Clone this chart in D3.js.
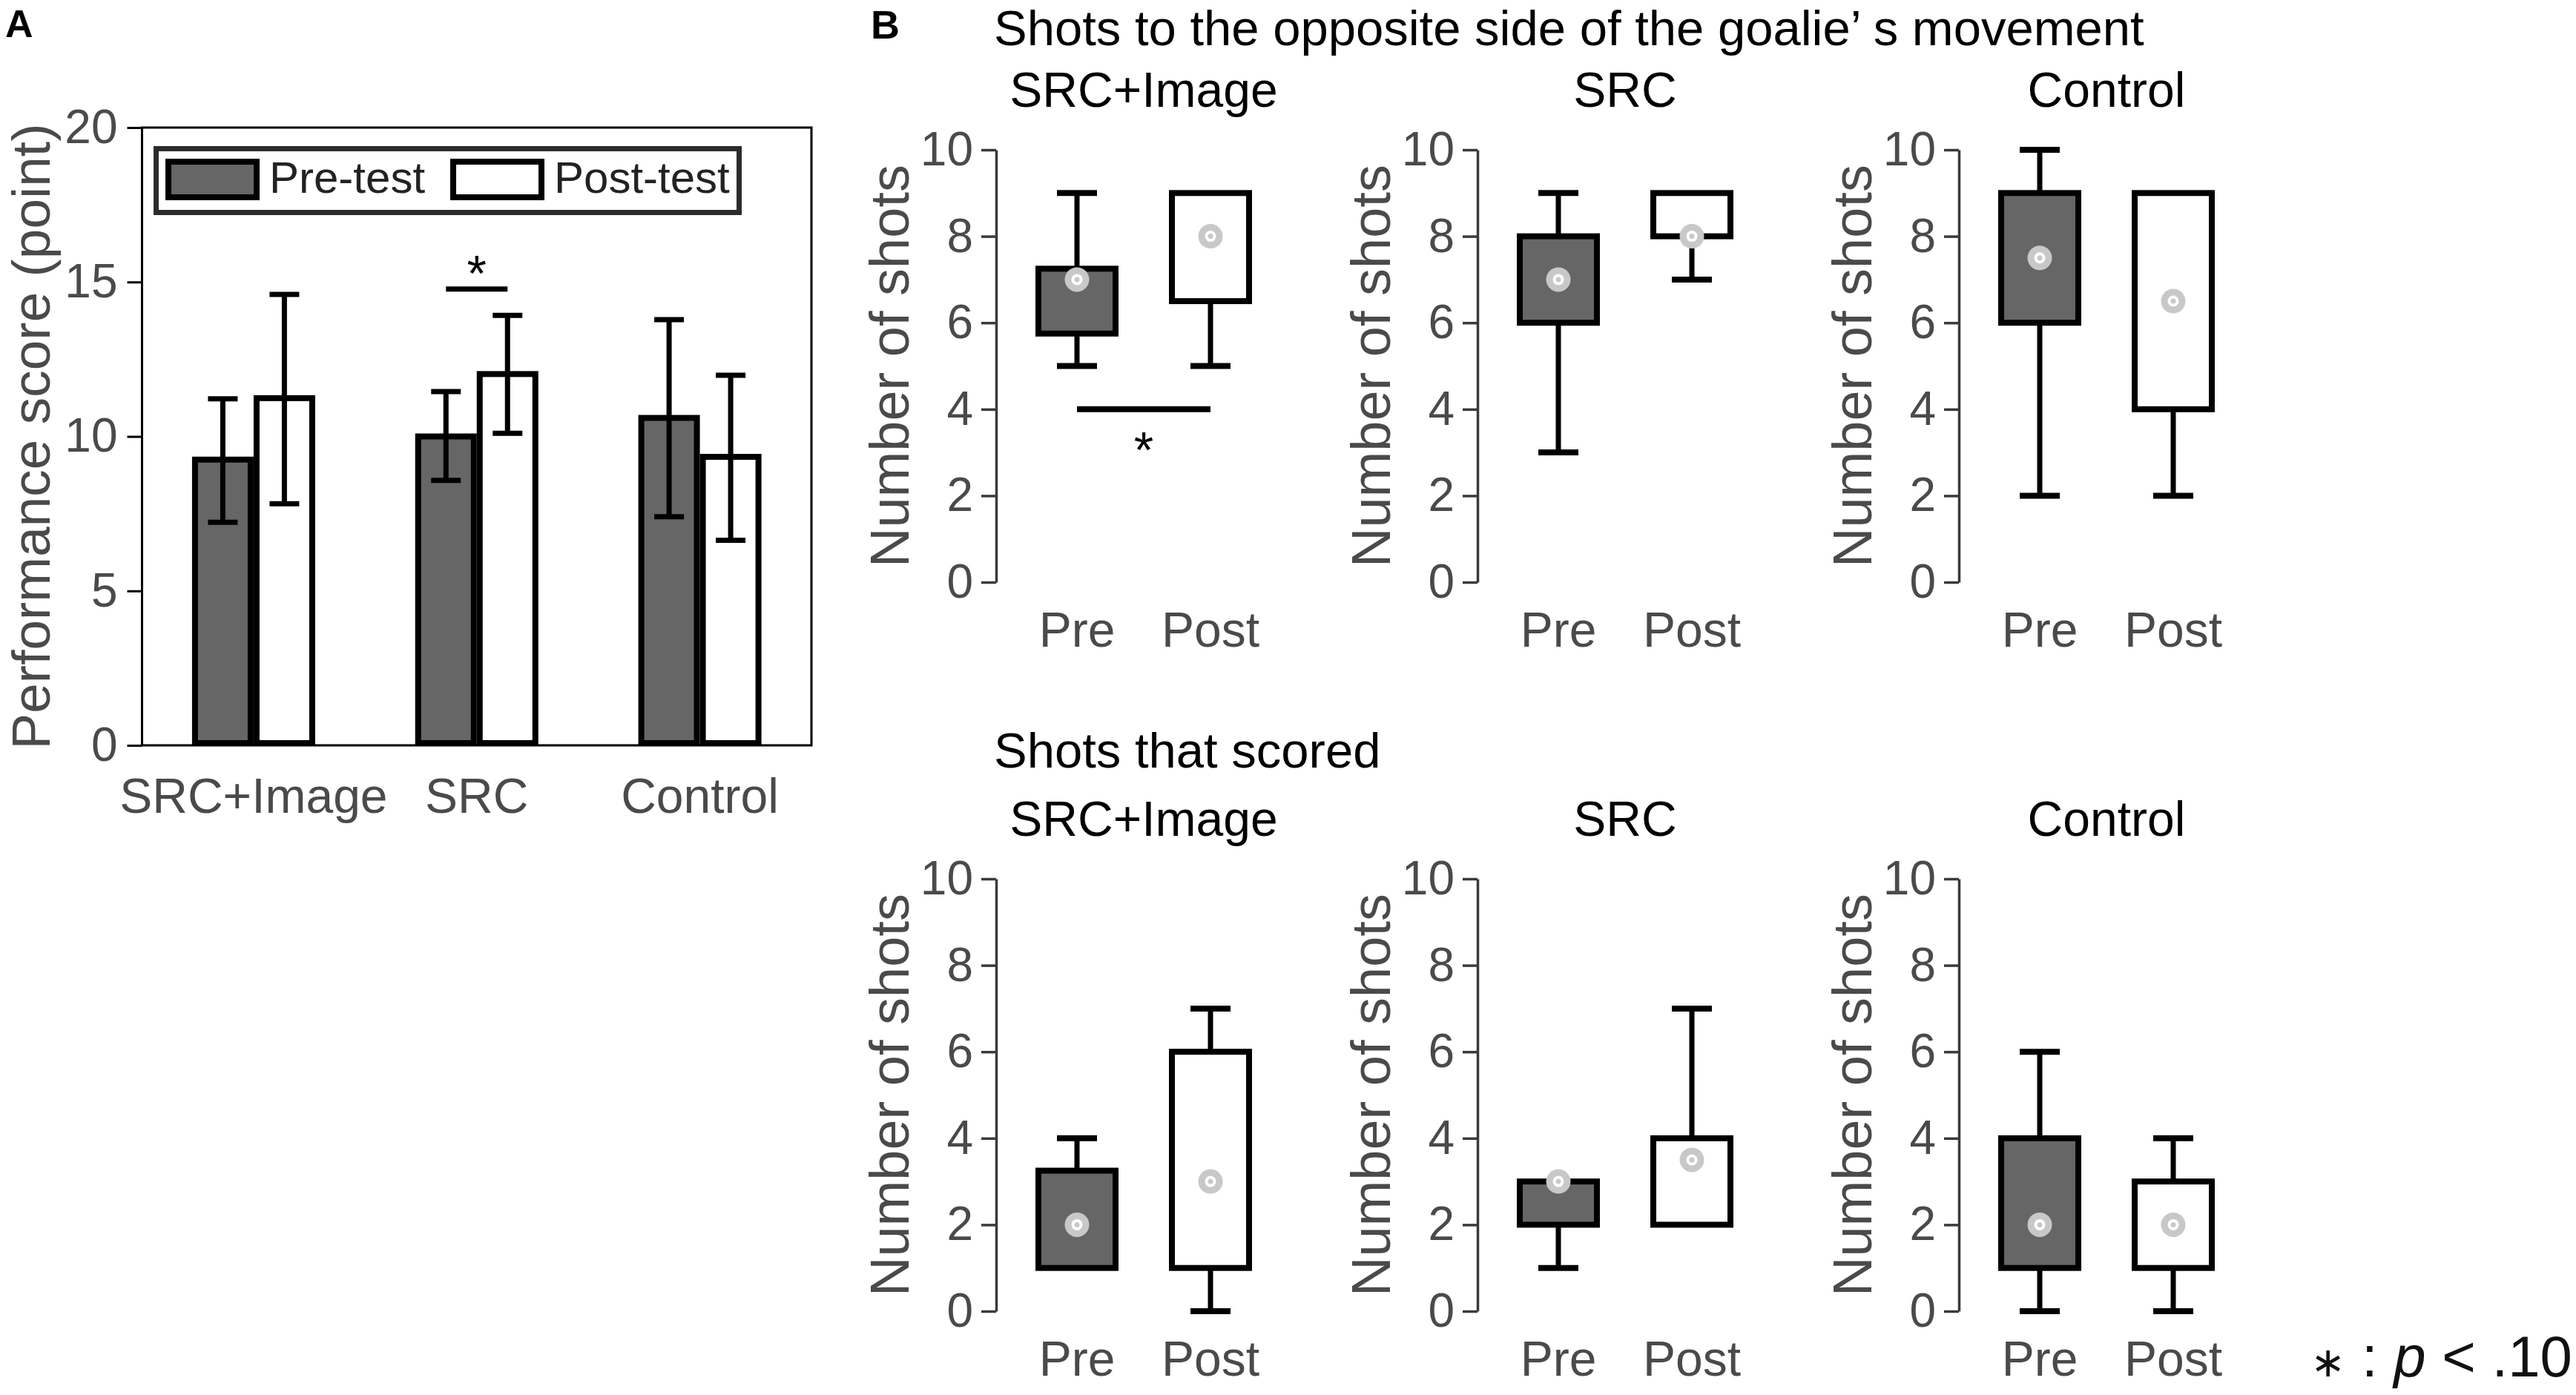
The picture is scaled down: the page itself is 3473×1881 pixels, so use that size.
<!DOCTYPE html>
<html><head><meta charset="utf-8">
<script src="https://cdn.jsdelivr.net/npm/d3@7"></script>
<style>
body{margin:0;background:#fff}
svg{display:block;background:#fff}
text{font-family:"Liberation Sans",Arial,Helvetica,sans-serif}
</style>
</head><body>
<svg id="c" width="3473" height="1881"></svg>
<script>
// ---------- data ----------
const groups = ["SRC+Image", "SRC", "Control"];
const phases = ["Pre", "Post"];
const legendLabels = ["Pre-test", "Post-test"];

// Panel A: performance score (mean and error-bar ends), [pre, post] per group
const scoreMean = [[9.25, 11.24], [10.0, 12.02], [10.6, 9.34]];
const scoreLow  = [[7.22, 7.82], [8.58, 10.1], [7.4, 6.64]];
const scoreHigh = [[11.22, 14.6], [11.45, 13.92], [13.78, 11.98]];
const scoreTicks = [0, 5, 10, 15, 20];
const scoreSig = {group: "SRC", value: 14.77};

// Panel B: box plots, [pre, post] per group
const rowTitles = ["Shots to the opposite side of the goalie\u2019 s movement", "Shots that scored"];
const shotTicks = [0, 2, 4, 6, 8, 10];
// row 1: shots to the opposite side
const oppMin    = [[5, 5],    [3, 7], [2, 2]];
const oppQ1     = [[5.75, 6.5], [6, 8], [6, 4]];
const oppCenter = [[7, 8],    [7, 8], [7.5, 6.5]];
const oppQ3     = [[7.25, 9], [8, 9], [9, 9]];
const oppMax    = [[9, 9],    [9, 9], [10, 9]];
const oppSig = {group: "SRC+Image", value: 4};
// row 2: shots that scored
const scMin    = [[1, 0],    [1, 2],   [0, 0]];
const scQ1     = [[1, 1],    [2, 2],   [1, 1]];
const scCenter = [[2, 3],    [3, 3.5], [2, 2]];
const scQ3     = [[3.25, 6], [3, 4],   [4, 3]];
const scMax    = [[4, 7],    [3, 7],   [6, 4]];

// ---------- style ----------
const GRAY_TXT = "#4a4a4a";
const FILL = {Pre: "#666666", Post: "#ffffff"};
const svg = d3.select("#c");

// ---------- Panel A ----------
svg.append("text").attr("x", 7).attr("y", 50).attr("font-size", 52)
  .attr("font-weight", "bold").attr("fill", "#000").text("A");

const A = {left: 191.5, right: 1094, top: 172, bottom: 1005};
const xA = d3.scaleBand().domain(groups).range([A.left, A.right]);
const xA1 = d3.scaleBand().domain(phases).range([-83, 83]);
const yA = d3.scaleLinear().domain([0, 20]).range([A.bottom, A.top]);
const cA = (g, p) => xA(g) + xA.bandwidth() / 2 + xA1(p) + xA1.bandwidth() / 2;

const axA = svg.append("g").attr("transform", `translate(${A.left},0)`)
  .call(d3.axisLeft(yA).tickValues(scoreTicks).tickSize(20).tickPadding(13).tickSizeOuter(0));
axA.select(".domain").remove();
axA.selectAll(".tick line").attr("stroke", "#000").attr("stroke-width", 3);
axA.selectAll(".tick text").attr("font-size", 64).attr("fill", GRAY_TXT)
  .attr("font-family", '"Liberation Sans",Arial,sans-serif');

svg.append("text").attr("transform", `translate(67,${(A.top + A.bottom) / 2}) rotate(-90)`)
  .attr("text-anchor", "middle").attr("font-size", 73).attr("fill", GRAY_TXT)
  .text("Performance score (point)");

const barData = [];
groups.forEach((g, i) => phases.forEach((p, j) => barData.push({
  g, p, mean: scoreMean[i][j], lo: scoreLow[i][j], hi: scoreHigh[i][j]
})));

svg.append("g").selectAll("rect").data(barData).join("rect")
  .attr("x", d => xA(d.g) + xA.bandwidth() / 2 + xA1(d.p) + 4)
  .attr("width", xA1.bandwidth() - 8)
  .attr("y", d => yA(d.mean))
  .attr("height", d => yA(0) - yA(d.mean) - 3)
  .attr("fill", d => FILL[d.p]).attr("stroke", "#000").attr("stroke-width", 8);

const eb = svg.append("g").attr("stroke", "#000").attr("stroke-width", 7);
eb.selectAll("line.v").data(barData).join("line").attr("class", "v")
  .attr("x1", d => cA(d.g, d.p)).attr("x2", d => cA(d.g, d.p))
  .attr("y1", d => yA(d.lo)).attr("y2", d => yA(d.hi));
eb.selectAll("line.lo").data(barData).join("line").attr("class", "lo")
  .attr("x1", d => cA(d.g, d.p) - 20).attr("x2", d => cA(d.g, d.p) + 20)
  .attr("y1", d => yA(d.lo)).attr("y2", d => yA(d.lo));
eb.selectAll("line.hi").data(barData).join("line").attr("class", "hi")
  .attr("x1", d => cA(d.g, d.p) - 20).attr("x2", d => cA(d.g, d.p) + 20)
  .attr("y1", d => yA(d.hi)).attr("y2", d => yA(d.hi));

// significance in A
svg.append("line")
  .attr("x1", cA(scoreSig.group, "Pre")).attr("x2", cA(scoreSig.group, "Post"))
  .attr("y1", yA(scoreSig.value)).attr("y2", yA(scoreSig.value))
  .attr("stroke", "#000").attr("stroke-width", 7);
svg.append("text")
  .attr("x", (cA(scoreSig.group, "Pre") + cA(scoreSig.group, "Post")) / 2)
  .attr("y", yA(scoreSig.value) + 2)
  .attr("text-anchor", "middle").attr("font-size", 68).attr("fill", "#000").text("*");

// frame
svg.append("rect").attr("x", A.left).attr("y", A.top)
  .attr("width", A.right - A.left).attr("height", A.bottom - A.top)
  .attr("fill", "none").attr("stroke", "#000").attr("stroke-width", 3);

// category labels
svg.append("g").selectAll("text").data(groups).join("text")
  .attr("x", g => xA(g) + xA.bandwidth() / 2).attr("y", 1096)
  .attr("text-anchor", "middle").attr("font-size", 66).attr("fill", GRAY_TXT).text(g => g);

// legend
const lg = svg.append("g");
lg.append("rect").attr("x", 210.5).attr("y", 200.5).attr("width", 786).attr("height", 86)
  .attr("fill", "#fff").attr("stroke", "#2b2b2b").attr("stroke-width", 7);
const legX = [223, 607];
phases.forEach((p, j) => {
  lg.append("rect").attr("x", legX[j] + 4).attr("y", 218).attr("width", 119).attr("height", 48)
    .attr("fill", FILL[p]).attr("stroke", "#000").attr("stroke-width", 8);
  lg.append("text").attr("x", legX[j] + 140).attr("y", 260).attr("font-size", 60)
    .attr("fill", "#222").text(legendLabels[j]);
});

// ---------- Panel B ----------
svg.append("text").attr("x", 1174).attr("y", 52).attr("font-size", 54)
  .attr("font-weight", "bold").attr("fill", "#000").text("B");

const panelX = [1343, 1992, 2641];
const rows = [
  {y0: 785, y10: 202, tY: 61, title: rowTitles[0], min: oppMin, q1: oppQ1, c: oppCenter, q3: oppQ3, max: oppMax, sig: oppSig},
  {y0: 1768, y10: 1185, tY: 1035, title: rowTitles[1], min: scMin, q1: scQ1, c: scCenter, q3: scQ3, max: scMax, sig: null}
];

rows.forEach(row => {
  svg.append("text").attr("x", 1340).attr("y", row.tY).attr("font-size", 67)
    .attr("fill", "#000").text(row.title);

  groups.forEach((g, i) => {
    const ax = panelX[i];
    const y = d3.scaleLinear().domain([0, 10]).range([row.y0, row.y10]);
    const x = d3.scalePoint().domain(phases).range([ax + 19, ax + 379]).padding(0.5);
    const pg = svg.append("g");

    // subtitle
    pg.append("text").attr("x", ax + 199).attr("y", row.y10 - 58)
      .attr("text-anchor", "middle").attr("font-size", 66).attr("fill", "#000").text(g);

    // axis
    const axis = pg.append("g").attr("transform", `translate(${ax},0)`)
      .call(d3.axisLeft(y).tickValues(shotTicks).tickSize(20).tickPadding(11).tickSizeOuter(0));
    axis.select(".domain").attr("stroke", "#3a3a3a").attr("stroke-width", 3.5);
    axis.selectAll(".tick line").attr("stroke", "#3a3a3a").attr("stroke-width", 3.5);
    axis.selectAll(".tick text").attr("font-size", 64).attr("fill", GRAY_TXT)
      .attr("font-family", '"Liberation Sans",Arial,sans-serif');

    // y label
    pg.append("text").attr("transform", `translate(${ax - 118},${(row.y0 + row.y10) / 2}) rotate(-90)`)
      .attr("text-anchor", "middle").attr("font-size", 74).attr("fill", GRAY_TXT).text("Number of shots");

    // x labels
    pg.selectAll("text.xl").data(phases).join("text").attr("class", "xl")
      .attr("x", p => x(p)).attr("y", row.y0 + 87)
      .attr("text-anchor", "middle").attr("font-size", 66).attr("fill", GRAY_TXT).text(p => p);

    const boxes = phases.map((p, j) => ({
      p, min: row.min[i][j], q1: row.q1[i][j], c: row.c[i][j], q3: row.q3[i][j], max: row.max[i][j]
    }));

    const wk = pg.append("g").attr("stroke", "#000").attr("stroke-width", 7);
    boxes.forEach(b => {
      const cx = x(b.p);
      if (b.max > b.q3) {
        wk.append("line").attr("x1", cx).attr("x2", cx).attr("y1", y(b.max)).attr("y2", y(b.q3));
        wk.append("line").attr("x1", cx - 27).attr("x2", cx + 27).attr("y1", y(b.max)).attr("y2", y(b.max)).attr("stroke-width", 8);
      }
      if (b.min < b.q1) {
        wk.append("line").attr("x1", cx).attr("x2", cx).attr("y1", y(b.q1)).attr("y2", y(b.min));
        wk.append("line").attr("x1", cx - 27).attr("x2", cx + 27).attr("y1", y(b.min)).attr("y2", y(b.min)).attr("stroke-width", 8);
      }
    });

    pg.append("g").selectAll("rect").data(boxes).join("rect")
      .attr("x", b => x(b.p) - 52).attr("width", 104)
      .attr("y", b => y(b.q3)).attr("height", b => y(b.q1) - y(b.q3))
      .attr("fill", b => FILL[b.p]).attr("stroke", "#000").attr("stroke-width", 8);

    const dots = pg.append("g").selectAll("g").data(boxes).join("g")
      .attr("transform", b => `translate(${x(b.p)},${y(b.c)})`);
    dots.append("circle").attr("r", 16.5).attr("fill", "#c8c8c8");
    dots.append("circle").attr("r", 7.5).attr("fill", "#ffffff");
    dots.append("circle").attr("r", 3.5).attr("fill", "#c8c8c8");

    if (row.sig && row.sig.group === g) {
      pg.append("line").attr("x1", x("Pre")).attr("x2", x("Post"))
        .attr("y1", y(row.sig.value)).attr("y2", y(row.sig.value))
        .attr("stroke", "#000").attr("stroke-width", 8);
      pg.append("text").attr("x", (x("Pre") + x("Post")) / 2).attr("y", y(row.sig.value) + 78)
        .attr("text-anchor", "middle").attr("font-size", 68).attr("fill", "#000").text("*");
    }
  });
});

// footnote
const fn = svg.append("text").attr("x", 3468).attr("y", 1856).attr("text-anchor", "end")
  .attr("font-size", 78).attr("fill", "#111");
fn.append("tspan").attr("font-family", '"DejaVu Sans",sans-serif').attr("font-size", 56).text("\u2217");
fn.append("tspan").text(" : ");
fn.append("tspan").attr("font-style", "italic").text("p");
fn.append("tspan").text(" < .10");
</script>
</body></html>
